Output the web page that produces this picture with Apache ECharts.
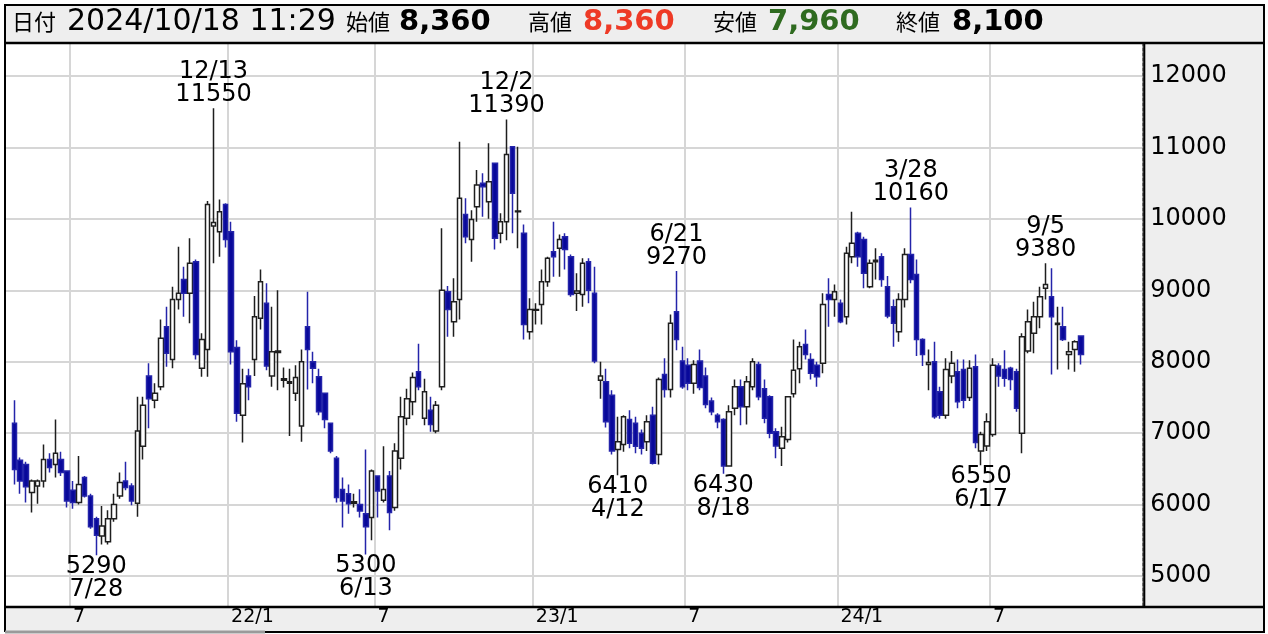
<!DOCTYPE html>
<html>
<head>
<meta charset="utf-8">
<script src="https://cdn.jsdelivr.net/npm/echarts/dist/echarts.min.js"></script>
<style>
html,body{margin:0;padding:0;background:#ffffff;}
#c{width:1268px;height:634px;}
</style>
</head>
<body>
<div id="c"></div>
<script>
// ---------- data ----------
const startWeek = '2021-04-12';   // first (empty) weekly slot
const weekCount = 194;            // slots on the axis
const firstDataIndex = 1;         // 2021-04-19 is the first candle

const opens = [
7140,6620,6560,6170,6260,6330,6630,6560,6630,6470,
6200,6030,6380,6120,5800,5560,5480,5800,6120,6330,
6260,6020,6815,7800,7460,7650,8490,8030,8870,9150,
8960,9400,7910,8170,9900,9820,10200,9820,8200,7250,
7800,8030,8610,8820,7800,8130,7740,7700,7560,7100,
8490,8000,7790,7560,7140,6650,6210,6150,6020,6000,
5870,5820,6400,6060,6400,5960,6650,7210,7440,7860,
7210,7320,7030,7650,8980,8560,8870,10060,9710,10170,
10500,10240,10780,9800,9960,11010,10100,9800,8420,8720,
8800,9120,9540,9590,9750,9470,8960,8940,9400,8960,
7740,7720,7530,6770,6840,7190,7140,7000,6880,7250,
6700,7820,7610,8700,8010,7950,7700,8010,7800,7450,
7250,7190,6540,7350,7650,7370,7650,7960,7620,7510,
7020,6790,6910,7550,7900,8240,8030,7950,7980,8940,
8870,8820,8630,9470,9800,9710,9050,9400,9470,9050,
8770,8420,8870,9500,9220,8310,7960,8000,7580,7250,
7800,7860,7890,7500,7930,6750,6820,6980,7940,7890,
7910,7860,7000,8150,8400,8630,9030,8910,8520,8490,
8100,8170,8360
];
const closes = [
6490,6330,6250,6330,6330,6630,6520,6720,6450,6050,
6030,6280,6120,5690,5570,5700,5800,6000,6310,6240,
6050,7030,7390,7480,7560,8330,8120,8870,8960,8960,
9380,8100,8310,10200,9950,10100,9710,8140,7280,7690,
7650,8630,9120,7940,8140,8150,7760,7720,7780,8000,
8170,7910,7300,7190,6750,6100,6050,6010,6040,5910,
5690,6470,6190,6210,5890,6750,7230,7480,7780,7650,
7580,7120,7390,9000,8730,8840,10290,9750,9990,10475,
10450,10520,9730,9960,10900,10360,10110,8520,8730,8730,
9120,9450,9470,9710,9570,8940,8990,9380,9000,8010,
7800,7160,6750,6880,7230,6860,6815,6790,7160,6580,
7750,7610,8540,8310,7650,7700,7960,7640,7400,7300,
7160,6540,7300,7650,7370,7720,8000,7510,7210,7000,
6820,6950,7510,7880,8210,8100,7840,7790,8800,8870,
8980,8560,9520,9660,9470,9240,9380,9420,9150,8640,
8540,8870,9500,9150,8310,8100,7990,7230,7250,7890,
7980,7440,7460,7910,6870,6980,7160,7950,7800,7770,
7750,7350,8350,8560,8630,8910,9080,8630,8540,8310,
8140,8280,8100
];
const lows = [
6280,6150,6030,5890,6010,6240,6450,6380,6400,5960,
5940,6000,6100,5660,5290,5440,5440,5760,6080,6200,
5990,5830,6630,7070,7350,7600,7930,7910,8730,8630,
8540,8030,7790,7790,9380,9470,9600,7960,7160,6870,
7460,7800,8450,7880,7650,7600,7640,6960,7450,6880,
7610,7700,7250,7070,6720,6030,5680,5870,5960,5820,
5300,5500,5820,6030,5640,5915,6490,7110,7250,7600,
7110,7020,7000,7600,8350,8350,8590,9660,9400,9960,
10030,10000,9570,9660,9700,9800,9590,8310,8310,8520,
8520,9050,9190,9190,9290,8910,8710,8770,8820,7980,
7480,7080,6700,6410,6740,6790,6720,6700,6750,6560,
6560,7500,7500,8160,7620,7600,7550,7600,7350,7250,
7070,6430,6530,7250,7110,7120,7600,7460,7140,6930,
6650,6540,6870,7500,7700,8030,7750,7650,7840,8490,
8630,8540,8520,9380,9330,9030,9030,9150,9050,8610,
8210,8280,8760,9100,8080,7940,7600,7200,7200,7200,
7700,7350,7350,7450,6790,6550,6750,6950,7650,7650,
7600,7300,6720,8120,8120,8470,8870,7820,7890,8290,
7890,7860,7960
];
const highs = [
7460,6660,6600,6350,6350,6840,6720,7190,6740,6480,
6330,6680,6400,6150,5830,5980,5920,6150,6450,6600,
6300,7510,7510,7980,7700,8590,8770,9050,9610,9330,
9730,9430,8400,10250,11550,10270,10220,9960,8300,7900,
7900,8920,9290,9100,8770,9000,7920,7900,7950,8170,
8980,8140,7900,7570,7150,6680,6380,6280,6150,6215,
6770,6490,6400,6815,6470,6860,7510,7620,7850,8250,
7760,7510,7450,9870,9060,9170,11080,10290,10120,10685,
10640,11060,10790,10080,11390,11020,11010,9920,8890,8820,
9290,9470,9960,9780,9800,9500,9240,9450,9450,9330,
8000,7900,7600,7230,7250,7320,7230,7050,7250,7370,
7780,8050,8660,9270,8210,8050,8020,8170,7920,7500,
7280,7210,7390,7750,7750,7800,8050,8000,7750,7530,
7070,7090,7510,8310,8280,8450,8120,8000,8960,9170,
9080,8870,9610,10100,9820,9750,9430,9590,9520,9200,
8870,8960,9590,10160,9430,8330,8170,8280,7650,8050,
8150,8030,8030,8020,8100,7020,7280,8050,7980,8160,
7930,7900,8400,8730,8840,9050,9380,9310,8770,8770,
8280,8300,8360
];

// x tick labels (week slot -> text)
const xTickWeeks  = ['2021-06-28','2022-01-03','2022-06-27','2023-01-02','2023-07-03','2024-01-01','2024-07-01'];
const xTickLabels = ['7','22/1','7','23/1','7','24/1','7'];
// y tick labels
const yTicks = [5000,6000,7000,8000,9000,10000,11000,12000];

// peak / trough annotations: [week, date text, price]
const highMarks = [
  ['2021-12-13','12/13',11550],
  ['2022-11-28','12/2',11390],
  ['2023-06-19','6/21',9270],
  ['2024-03-25','3/28',10160],
  ['2024-09-02','9/5',9380]
];
const lowMarks = [
  ['2021-07-26','7/28',5290],
  ['2022-06-13','6/13',5300],
  ['2023-04-10','4/12',6410],
  ['2023-08-14','8/18',6430],
  ['2024-06-17','6/17',6550]
];

// header
const headerLabels = ['日付','始値','高値','安値','終値'];
const headerValues = ['2024/10/18 11:29','8,360','8,360','7,960','8,100'];

// ---------- build ----------
const categories = [];
(function(){
  const t0 = Date.parse(startWeek + 'T00:00:00Z');
  for (let k = 0; k < weekCount; k++) {
    categories.push(new Date(t0 + k * 7 * 86400000).toISOString().slice(0,10));
  }
})();

const candleData = categories.map((c, j) => {
  const i = j - firstDataIndex;
  return (i >= 0 && i < opens.length) ? [opens[i], closes[i], lows[i], highs[i]] : ['-','-','-','-'];
});

const tickIndex = {};
xTickWeeks.forEach((w, k) => { tickIndex[categories.indexOf(w)] = xTickLabels[k]; });

const FONT = 'DejaVu Sans';
const CJK = '"Noto Sans CJK JP"';

const markData = [];
highMarks.forEach(([w, t, v]) => markData.push({
  coord: [w, v], value: v,
  label: {position: 'top', distance: 2, formatter: t + '\n' + v}
}));
lowMarks.forEach(([w, t, v]) => markData.push({
  coord: [w, v], value: v,
  label: {position: 'bottom', distance: 0, formatter: v + '\n' + t}
}));

// header layout
const hdrLabelX = [12, 346, 528, 713, 896];
const hdrValueX = [67, 399, 583, 768, 952];
const hdrValueColor = ['#000000','#000000','#ee3a26','#2f6b20','#000000'];
const hdrValueFont = ['30px ' + FONT, 'bold 29px ' + FONT, 'bold 29px ' + FONT, 'bold 29px ' + FONT, 'bold 29px ' + FONT];
const HY = 22;

const graphics = [
  {type:'rect', z:-1, silent:true, shape:{x:5, y:5, width:1259, height:38}, style:{fill:'#eeeeee'}},
  {type:'rect', z:-1, silent:true, shape:{x:1143, y:43, width:121, height:564}, style:{fill:'#eeeeee'}},
  {type:'rect', z:-1, silent:true, shape:{x:5, y:607, width:1259, height:25}, style:{fill:'#eeeeee'}},
  {type:'line', z:20, silent:true, shape:{x1:4, y1:5, x2:1265, y2:5}, style:{stroke:'#000', lineWidth:2}},
  {type:'line', z:20, silent:true, shape:{x1:4, y1:43, x2:1265, y2:43}, style:{stroke:'#000', lineWidth:2.5}},
  {type:'line', z:20, silent:true, shape:{x1:5, y1:4, x2:5, y2:632}, style:{stroke:'#000', lineWidth:2}},
  {type:'line', z:20, silent:true, shape:{x1:1264, y1:4, x2:1264, y2:633}, style:{stroke:'#000', lineWidth:2}},
  {type:'line', z:20, silent:true, shape:{x1:1144.3, y1:43, x2:1144.3, y2:607}, style:{stroke:'#000', lineWidth:2}},
  {type:'line', z:20, silent:true, shape:{x1:4, y1:607, x2:1265, y2:607}, style:{stroke:'#000', lineWidth:2.5}},
  {type:'line', z:20, silent:true, shape:{x1:265, y1:632, x2:1265, y2:632}, style:{stroke:'#000', lineWidth:2}},
  {type:'line', z:20, silent:true, shape:{x1:5, y1:632, x2:265, y2:632}, style:{stroke:'#9a9a9a', lineWidth:3}}
];
headerLabels.forEach((t, k) => {
  graphics.push({type:'text', z:20, silent:true, x:hdrLabelX[k], y:HY,
    style:{text:t, font:'22px ' + CJK, fill:'#000', textAlign:'left', textVerticalAlign:'middle', align:'left', verticalAlign:'middle'}});
});
headerValues.forEach((t, k) => {
  graphics.push({type:'text', z:20, silent:true, x:hdrValueX[k], y:HY,
    style:{text:t, font:hdrValueFont[k], fill:hdrValueColor[k], textAlign:'left', textVerticalAlign:'middle', align:'left', verticalAlign:'middle'}});
});

const chart = echarts.init(document.getElementById('c'), null, {renderer:'canvas'});
chart.setOption({
  animation: false,
  backgroundColor: '#ffffff',
  grid: {left: 5.51, right: 125.7, top: 43, bottom: 28, containLabel: false},
  xAxis: {
    type: 'category',
    data: categories,
    boundaryGap: true,
    axisLine: {show: false},
    axisTick: {show: false},
    splitLine: {
      show: true,
      interval: (idx) => tickIndex[idx] !== undefined,
      lineStyle: {color: '#d6d6d6', width: 2}
    },
    axisLabel: {
      interval: (idx) => tickIndex[idx] !== undefined,
      formatter: (v, idx) => tickIndex[idx] || '',
      align: 'left',
      margin: 2,
      fontSize: 19,
      fontFamily: FONT,
      color: '#000'
    }
  },
  yAxis: {
    type: 'value',
    position: 'right',
    min: 4580,
    max: 12462,
    axisLine: {show: true, lineStyle: {color: '#555555', width: 1.5, type: [3, 2]}},
    axisTick: {show: false, customValues: yTicks},
    axisLabel: {customValues: yTicks, formatter: (v) => String(v), margin: 8, fontSize: 24, fontFamily: FONT, color: '#000', align: 'left'},
    splitLine: {show: true, lineStyle: {color: '#d6d6d6', width: 2}}
  },
  graphic: graphics,
  series: [{
    type: 'candlestick',
    data: candleData,
    barWidth: 5,
    itemStyle: {
      color: '#ffffff',
      color0: '#08089a',
      borderColor: '#1e1e1e',
      borderColor0: '#2424aa',
      borderWidth: 1.5
    },
    markPoint: {
      symbol: 'circle',
      symbolSize: 0,
      silent: true,
      animation: false,
      label: {show: true, color: '#000', fontSize: 24, fontFamily: FONT, lineHeight: 23},
      data: markData
    }
  }]
});
</script>
</body>
</html>
